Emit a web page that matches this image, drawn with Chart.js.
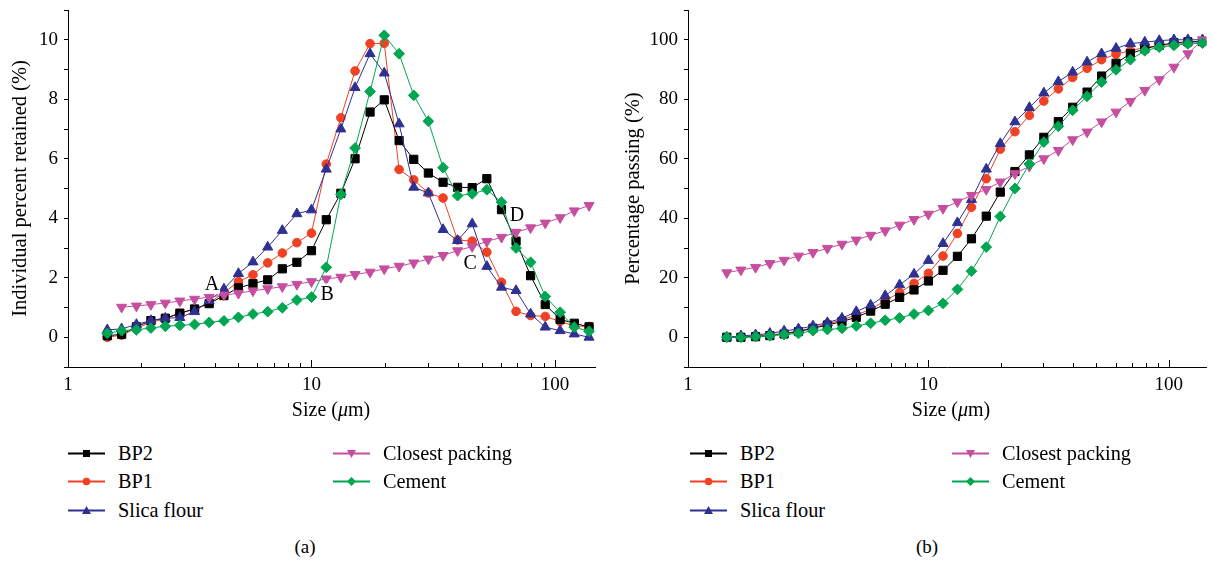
<!DOCTYPE html>
<html>
<head>
<meta charset="utf-8">
<script src="https://cdn.jsdelivr.net/npm/chart.js@4.4.1/dist/chart.umd.min.js"></script>
<style>
  body { margin: 0; background: #fff; width: 1213px; height: 562px; overflow: hidden; font-family: "Liberation Serif", "DejaVu Serif", serif; color: #000; }
  .panel { position: absolute; top: 0; height: 562px; }
  .panel canvas { position: absolute; left: 0; top: 0; }
  .xtitle { position: absolute; top: 398px; font-size: 20px; white-space: nowrap; transform: translateX(-50%); }
  .caption { position: absolute; top: 536px; font-size: 19px; transform: translateX(-50%); }
  .item { position: absolute; height: 24px; display: flex; align-items: center; font-size: 20.3px; white-space: nowrap; }
  .item svg { margin-right: 13px; }
</style>
</head>
<body>
<div class="panel" id="panelA" style="left:0;width:606px">
  <canvas id="chartA" width="606" height="430"></canvas>
  <div class="xtitle" style="left:331px">Size (<i>μ</i>m)</div>
  <div class="caption" style="left:305px">(a)</div>
</div>
<div class="panel" id="panelB" style="left:620px;width:593px">
  <canvas id="chartB" width="593" height="430"></canvas>
  <div class="xtitle" style="left:331px">Size (<i>μ</i>m)</div>
  <div class="caption" style="left:307px">(b)</div>
</div>
<script>
// particle sizes (um), same bins for both panels
const sizes = [1.45, 1.66, 1.91, 2.19, 2.51, 2.88, 3.31, 3.80, 4.37, 5.01, 5.75, 6.61, 7.59, 8.71,
  10.0, 11.5, 13.2, 15.1, 17.4, 19.9, 22.9, 26.3, 30.2, 34.7, 39.8, 45.7, 52.5, 60.3, 69.2, 79.4, 91.2, 105, 120, 138];

// (a) individual percent retained
const bp2Retained = [0.05, 0.1, 0.35, 0.56, 0.64, 0.81, 0.95, 1.13, 1.4, 1.66, 1.8, 1.93, 2.3, 2.52,
  2.91, 3.95, 4.84, 6.0, 7.57, 7.98, 6.61, 5.98, 5.52, 5.21, 5.04, 5.03, 5.33, 4.29, 3.23, 2.07, 1.1, 0.6, 0.47, 0.35];
const bp1Retained = [0.0, 0.07, 0.3, 0.5, 0.62, 0.8, 0.95, 1.15, 1.5, 1.87, 2.1, 2.5, 2.83, 3.18,
  3.5, 5.82, 7.38, 8.95, 9.87, 9.88, 5.64, 5.29, 4.85, 4.68, 3.27, 3.23, 2.86, 1.85, 0.87, 0.73, 0.7, 0.53, 0.38, 0.36];
const silicaRetained = [0.25, 0.28, 0.43, 0.56, 0.64, 0.66, 0.86, 1.23, 1.62, 2.14, 2.53, 3.03, 3.59, 4.15,
  4.28, 5.65, 7.0, 8.39, 9.53, 8.88, 7.17, 5.04, 4.85, 3.62, 3.25, 3.81, 2.38, 1.68, 1.57, 0.78, 0.34, 0.22, 0.11, 0.0];
const packingRetained = [null, 1.01, 1.05, 1.1, 1.15, 1.22, 1.28, 1.35, 1.42, 1.48, 1.56, 1.63, 1.7, 1.78,
  1.87, 1.96, 2.02, 2.11, 2.19, 2.3, 2.39, 2.5, 2.63, 2.75, 2.91, 3.05, 3.22, 3.36, 3.53, 3.68, 3.84, 4.02, 4.25, 4.43];
const cementRetained = [0.13, 0.22, 0.25, 0.31, 0.37, 0.4, 0.43, 0.5, 0.55, 0.67, 0.78, 0.86, 0.99, 1.25,
  1.35, 2.35, 4.8, 6.36, 8.26, 10.15, 9.53, 8.13, 7.26, 5.7, 4.76, 4.82, 4.96, 4.54, 3.0, 2.52, 1.37, 0.84, 0.34, 0.2];

// (b) percentage passing
const bp2Passing = [0, 0, 0.2, 0.55, 1.1, 1.9, 3.0, 4.1, 5.3, 6.7, 8.8, 11.1, 13.4, 15.9,
  18.9, 22.5, 27.2, 33.1, 40.7, 48.8, 55.7, 61.3, 67.2, 72.5, 77.3, 82.4, 87.8, 92.1, 95.3, 97.0, 98.1, 99.0, 99.3, 99.4];
const bp1Passing = [0, 0, 0.45, 0.8, 1.3, 2.1, 3.2, 4.5, 5.8, 7.5, 9.4, 12.3, 15.0, 18.1,
  21.5, 27.3, 34.9, 43.7, 53.3, 63.2, 69.1, 74.6, 79.4, 83.5, 87.3, 90.4, 93.3, 95.2, 96.3, 97.4, 98.0, 98.5, 98.8, 99.0];
const silicaPassing = [0, 0.45, 0.8, 1.3, 2.1, 2.8, 3.8, 4.9, 6.4, 8.6, 10.8, 14.0, 17.6, 21.2,
  25.8, 31.5, 38.5, 46.3, 56.5, 65.1, 72.4, 77.2, 82.1, 85.9, 89.1, 92.5, 95.3, 97.1, 98.7, 99.2, 99.7, 100, 100, 100];
const packingPassing = [21.7, 22.6, 23.5, 24.8, 25.9, 27.3, 28.5, 29.9, 31.3, 32.7, 34.3, 35.8, 37.7, 39.6,
  41.4, 43.3, 45.5, 47.7, 49.7, 52.2, 55.0, 57.5, 60.0, 62.8, 66.4, 69.0, 72.4, 75.7, 79.3, 83.0, 86.6, 90.8, 95.3, 100];
const cementPassing = [0, 0, 0.2, 0.55, 0.9, 1.3, 2.2, 2.6, 3.0, 3.8, 4.7, 5.7, 6.5, 7.8,
  9.0, 11.4, 16.1, 22.2, 30.3, 40.6, 50.0, 58.2, 65.6, 70.9, 76.3, 81.0, 85.8, 89.9, 93.3, 96.3, 97.5, 98.1, 98.6, 98.9];

const legendCols = [['BP2', 'BP1', 'Slica flour'], ['Closest packing', 'Cement']];
const letterTags = [
  { text: 'A', x: 3.9, y: 1.8 },
  { text: 'B', x: 11.6, y: 1.47 },
  { text: 'C', x: 44.8, y: 2.51 },
  { text: 'D', x: 69.8, y: 4.13 }
];

const serif = '"Liberation Serif", "DejaVu Serif", serif';
const styles = {
  'BP2':             { color: '#000000', shape: 'rect',     radius: 5.8, rot: 0,   order: 4 },
  'BP1':             { color: '#ef4123', shape: 'circle',   radius: 4.3, rot: 0,   order: 5 },
  'Slica flour':     { color: '#2e3192', shape: 'triangle', radius: 5.8, rot: 0,   order: 3 },
  'Closest packing': { color: '#c64e9e', shape: 'triangle', radius: 5.8, rot: 180, order: 2 },
  'Cement':          { color: '#00a651', shape: 'rectRot',  radius: 5.4, rot: 0,   order: 1 }
};

function makeDataset(name, values) {
  const s = styles[name];
  return {
    label: name,
    data: sizes.map((x, i) => ({ x, y: values[i] })),
    borderColor: s.color,
    backgroundColor: s.color,
    borderWidth: 1,
    pointStyle: s.shape,
    pointRadius: s.radius,
    pointRotation: s.rot,
    pointBorderWidth: 1,
    order: s.order,
    spanGaps: false
  };
}

function decadeLabel(v) {
  const l = Math.log10(v);
  return Math.abs(l - Math.round(l)) < 1e-9 ? String(Math.round(v)) : '';
}

// x ticks in the figure point into the plot, so draw them here
const innerTicks = {
  id: 'innerTicks',
  afterDraw(chart) {
    const xs = chart.scales.x, ctx = chart.ctx, bottom = chart.chartArea.bottom;
    ctx.save();
    ctx.strokeStyle = '#000';
    ctx.lineWidth = 1;
    xs.ticks.forEach(t => {
      const m = t.value / Math.pow(10, Math.floor(Math.log10(t.value) + 1e-9));
      if (Math.abs(m - Math.round(m)) > 1e-6 || t.value > xs.max) return;
      const len = Math.abs(m - 1) < 1e-6 ? 7 : 4;
      const px = Math.round(xs.getPixelForValue(t.value)) + 0.5;
      ctx.beginPath();
      ctx.moveTo(px, bottom);
      ctx.lineTo(px, bottom - len);
      ctx.stroke();
    });
    ctx.restore();
  }
};

const letterPlugin = {
  id: 'letters',
  afterDatasetsDraw(chart, args, opts) {
    if (!opts.items) return;
    const ctx = chart.ctx;
    ctx.save();
    ctx.font = '20px ' + serif;
    ctx.textAlign = 'center';
    ctx.textBaseline = 'middle';
    opts.items.forEach(it => {
      const px = chart.scales.x.getPixelForValue(it.x);
      const py = chart.scales.y.getPixelForValue(it.y);
      ctx.fillStyle = '#fff';
      ctx.fillRect(px - 8, py - 10, 16, 20);
      ctx.fillStyle = '#000';
      ctx.fillText(it.text, px, py + 1);
    });
    ctx.restore();
  }
};

function makeChart(id, datasets, cfg) {
  return new Chart(document.getElementById(id), {
    type: 'line',
    data: { datasets },
    plugins: [innerTicks, letterPlugin],
    options: {
      responsive: false,
      animation: false,
      layout: { padding: { top: 10, right: cfg.padRight, left: 0, bottom: 0 } },
      plugins: {
        legend: { display: false },
        tooltip: { enabled: false },
        letters: { items: cfg.letters }
      },
      scales: {
        x: {
          type: 'logarithmic',
          min: 1,
          max: cfg.xMax,
          border: { color: '#000', width: 1 },
          grid: { drawOnChartArea: false, drawTicks: false },
          ticks: { autoSkip: false, maxRotation: 0, padding: 7, color: '#000', font: { family: serif, size: 19 }, callback: decadeLabel },
          afterFit: s => { s.height = 63; s.paddingLeft = 0; s.paddingRight = 0; }
        },
        y: {
          min: cfg.yMin,
          max: cfg.yMax,
          border: { color: '#000', width: 1 },
          grid: { drawOnChartArea: false, tickLength: 4, tickColor: '#000' },
          ticks: {
            stepSize: cfg.yStep,
            padding: 6,
            color: '#000',
            font: { family: serif, size: 19 },
            callback: v => (Math.round(v / cfg.yStep) % 2 === 0 ? String(v) : '')
          },
          title: { display: true, text: cfg.yTitle, color: '#000', font: { family: serif, size: 20.5 }, padding: { top: cfg.titlePad, bottom: 0 } },
          afterFit: s => { s.width = 68; s.paddingTop = 0; s.paddingBottom = 0; }
        }
      }
    }
  });
}

function buildLegend(panelId, offsetLeft, colGap) {
  const panel = document.getElementById(panelId);
  legendCols.forEach((col, ci) => {
    col.forEach((name, ri) => {
      const s = styles[name];
      const el = document.createElement('div');
      el.className = 'item';
      el.style.left = (offsetLeft + ci * colGap) + 'px';
      el.style.top = (441 + ri * 28.5) + 'px';
      let mark = '';
      if (s.shape === 'rect') mark = '<rect x="15" y="3" width="7" height="7"/>';
      else if (s.shape === 'circle') mark = '<circle cx="18.5" cy="6.5" r="3.8"/>';
      else if (s.shape === 'rectRot') mark = '<polygon points="18.5,2 23,6.5 18.5,11 14,6.5"/>';
      else if (s.rot === 180) mark = '<polygon points="14,3 23,3 18.5,11"/>';
      else mark = '<polygon points="14,10 23,10 18.5,2"/>';
      el.innerHTML = '<svg width="37" height="13"><line x1="0" y1="6.5" x2="37" y2="6.5" stroke="' + s.color +
        '" stroke-width="2"/><g fill="' + s.color + '">' + mark + '</g></svg><span>' + name + '</span>';
      panel.appendChild(el);
    });
  });
}

makeChart('chartA', [
  makeDataset('BP2', bp2Retained),
  makeDataset('BP1', bp1Retained),
  makeDataset('Slica flour', silicaRetained),
  makeDataset('Closest packing', packingRetained),
  makeDataset('Cement', cementRetained)
], { xMax: 146, padRight: 11, yMin: -1, yMax: 11, yStep: 1, titlePad: 8, yTitle: 'Individual percent retained (%)', letters: letterTags });

makeChart('chartB', [
  makeDataset('BP2', bp2Passing),
  makeDataset('BP1', bp1Passing),
  makeDataset('Slica flour', silicaPassing),
  makeDataset('Closest packing', packingPassing),
  makeDataset('Cement', cementPassing)
], { xMax: 143, padRight: 0, yMin: -10, yMax: 110, yStep: 10, titlePad: 1, yTitle: 'Percentage passing (%)', letters: null });

buildLegend('panelA', 68, 265);
buildLegend('panelB', 70, 262);
</script>
</body>
</html>
